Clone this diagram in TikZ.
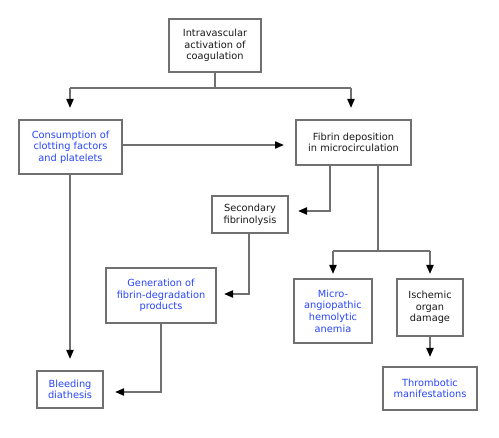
\documentclass[tikz,border=0pt]{standalone}
\usepackage{fontspec}
\setmainfont{DejaVu Sans}
\usetikzlibrary{arrows.meta}
\definecolor{edge}{RGB}{112,112,112}
\definecolor{bluetext}{RGB}{40,70,250}
\definecolor{darktext}{RGB}{25,25,25}
\tikzset{
  box/.style={draw=edge, line width=2pt, fill=white, align=center, inner sep=2pt,
    font=\fontsize{9.8}{11.6}\selectfont, text=darktext},
  bluebox/.style={box, text=bluetext},
  link/.style={draw=edge, line width=2pt},
  arr/.style={link, -{Triangle[length=9pt,width=7pt,color=black,fill=black]}},
}
\begin{document}
\begin{tikzpicture}[x=1pt,y=-1pt]
\useasboundingbox (0,0) rectangle (499,438);

% boxes
\node[box, minimum width=92pt, minimum height=53pt] (top) at (215,45.5)
  {Intravascular\\activation of\\coagulation};
\node[bluebox, minimum width=103pt, minimum height=54pt] (cons) at (70.5,147)
  {Consumption of\\clotting factors\\and platelets};
\node[box, minimum width=115pt, minimum height=45pt] (fib) at (353.5,142.5)
  {Fibrin deposition\\in microcirculation};
\node[box, minimum width=76pt, minimum height=37pt] (sec) at (250,214.5)
  {Secondary\\fibrinolysis};
\node[bluebox, minimum width=110pt, minimum height=55pt] (gen) at (161,295.5)
  {Generation of\\fibrin-degradation\\products};
\node[bluebox, minimum width=78pt, minimum height=64pt] (micro) at (333,311)
  {Micro-\\angiopathic\\hemolytic\\anemia};
\node[box, minimum width=66pt, minimum height=57pt] (isch) at (430,307.5)
  {Ischemic\\organ\\damage};
\node[bluebox, minimum width=66pt, minimum height=37pt] (bleed) at (70,389.5)
  {Bleeding\\diathesis};
\node[bluebox, minimum width=94pt, minimum height=43pt] (thromb) at (430,388.5)
  {Thrombotic\\manifestations};

% junction points
\coordinate (splitA) at (215,88);
\coordinate (splitL) at (70,88);
\coordinate (splitR) at (351,88);
\coordinate (splitB) at (378,251);
\coordinate (splitBL) at (333,251);
\coordinate (splitBR) at (430,251);

% connectors
\draw[link] (top.south) -- (splitA);
\draw[link] (splitL) -- (splitR);
\draw[arr] (splitL) -- (70,108);
\draw[arr] (splitR) -- (351,108);
\draw[arr, shorten >=11pt] (cons.east |- 0,145) -- (fib.west |- 0,145);
\draw[arr, shorten >=11pt] (cons.south -| bleed.north) -- (bleed.north);
\draw[arr, shorten >=9pt] (fib.south -| 330,0) |- (sec.east |- 0,211);
\draw[arr, shorten >=7pt] (sec.south -| 249,0) |- (gen.east |- 0,294);
\draw[arr, shorten >=11pt] (gen.south) |- (bleed.east |- 0,392);
\draw[link] (fib.south -| splitB) -- (splitB);
\draw[link] (splitBL) -- (splitBR);
\draw[arr, shorten >=4pt] (splitBL) -- (micro.north);
\draw[arr, shorten >=4pt] (splitBR) -- (isch.north);
\draw[arr, shorten >=9pt] (isch.south) -- (thromb.north);
\end{tikzpicture}
\end{document}
